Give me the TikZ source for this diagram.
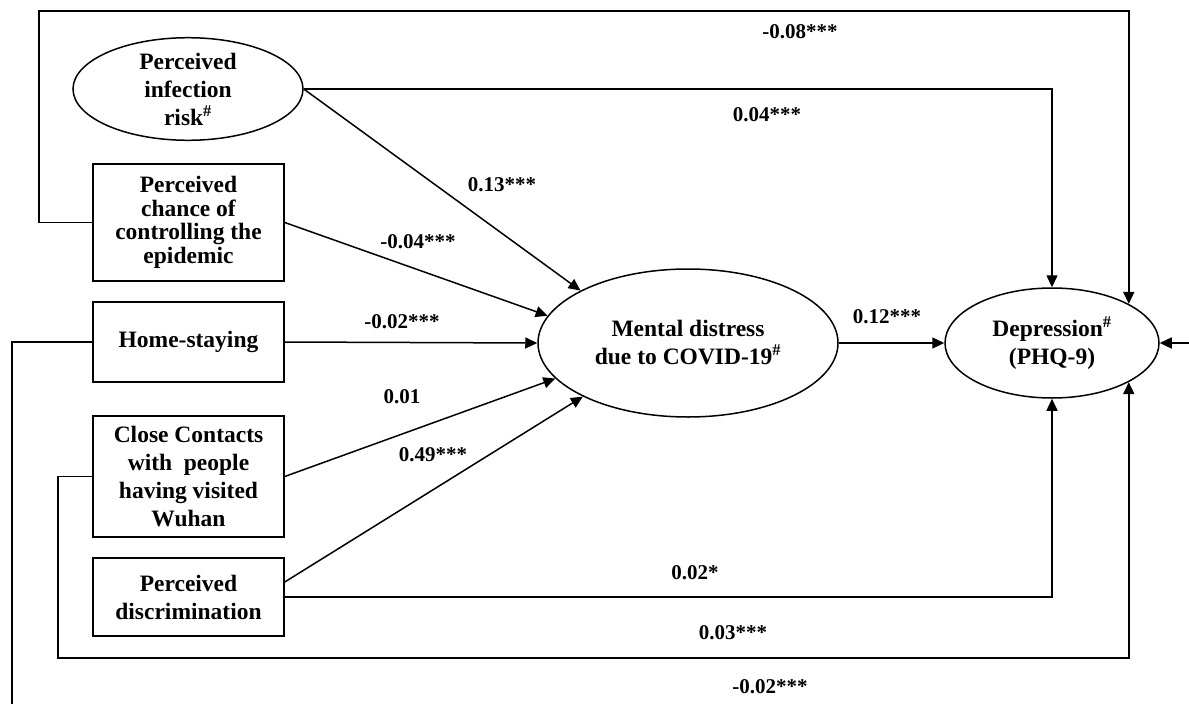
\documentclass[tikz,border=0pt]{standalone}
\usepackage{fontspec}
\setmainfont{Liberation Serif}
\usetikzlibrary{arrows.meta,shapes.geometric}

\begin{document}
\begin{tikzpicture}[
  x=1pt, y=-1pt,
  line width=1.5pt,
  obsvar/.style={draw, rectangle, minimum width=191pt, inner sep=0pt, align=center, font=\fontsize{23.5}{28}\selectfont\bfseries},
  latvar/.style={draw, ellipse, inner sep=0pt, align=center, font=\fontsize{23.5}{28}\selectfont\bfseries},
  effect/.style={-{Triangle[length=12pt,width=11pt]}},
  coef/.style={inner sep=0pt, font=\fontsize{21}{25}\selectfont\bfseries}
]
  \useasboundingbox (0,0) rectangle (1189,704);
  \clip (0,0) rectangle (1189,704);

  % predictors
  \node[latvar, minimum width=230pt, minimum height=97pt] (risk) at (188,89) {Perceived\\infection\\risk\textsuperscript{\#}};
  \node[obsvar, minimum height=117pt, font=\fontsize{23.5}{23.5}\selectfont\bfseries] (chance) at (188.5,222.5) {Perceived\\chance of\\controlling the\\epidemic};
  \node[obsvar, minimum height=80pt] (home) at (188.5,342) {Home-staying};
  \node[obsvar, minimum height=121pt] (contact) at (188.5,476.5) {Close Contacts\\with\ \ people\\having visited\\Wuhan};
  \node[obsvar, minimum height=78pt] (discrim) at (188.5,597) {Perceived\\discrimination};

  % mediator and outcome
  \node[latvar, minimum width=300pt, minimum height=148pt] (mental) at (688,343) {Mental distress\\due to COVID-19\textsuperscript{\#}};
  \node[latvar, minimum width=214pt, minimum height=110pt] (depr) at (1052,343) {Depression\textsuperscript{\#}\\(PHQ-9)};

  % corners of the outer loops
  \coordinate (topL) at (39,11);
  \coordinate (midL) at (58,658);
  \coordinate (lowL) at (12,720);
  \coordinate (lowR) at (1200,343);

  % paths into the mediator
  \draw[effect] (risk.east) -- (mental.154);
  \draw[effect] (chance.east) -- (mental.169);
  \draw[effect] (home.east) -- (mental.west);
  \draw[effect] (contact.east) -- (mental.195);
  \draw[effect] ([yshift=15pt]discrim.east) -- (mental.207);
  \draw[effect] (mental.east) -- (depr.west);

  % direct paths to the outcome
  \draw[effect] (risk.east) -| (depr.north);
  \draw[effect] (discrim.east) -| (depr.south);
  \draw[effect] (chance.west) -| (topL) -| (depr.27);
  \draw[effect] (contact.west) -| (midL) -| (depr.-27);
  \draw[effect] (home.west) -| (lowL) -| (lowR) -- (depr.east);

  % coefficients
  \node[coef] (c1) at (800,32) {-0.08***};
  \node[coef] (c2) at (767,115) {0.04***};
  \node[coef] (c3) at (502,185) {0.13***};
  \node[coef] (c4) at (418,242) {-0.04***};
  \node[coef] (c5) at (402,322) {-0.02***};
  \node[coef] (c6) at (887,317) {0.12***};
  \node[coef] (c7) at (402,397) {0.01};
  \node[coef] (c8) at (433,455) {0.49***};
  \node[coef] (c9) at (695,573) {0.02*};
  \node[coef] (c10) at (733,633) {0.03***};
  \node[coef] (c11) at (770,687) {-0.02***};
\end{tikzpicture}
\end{document}
